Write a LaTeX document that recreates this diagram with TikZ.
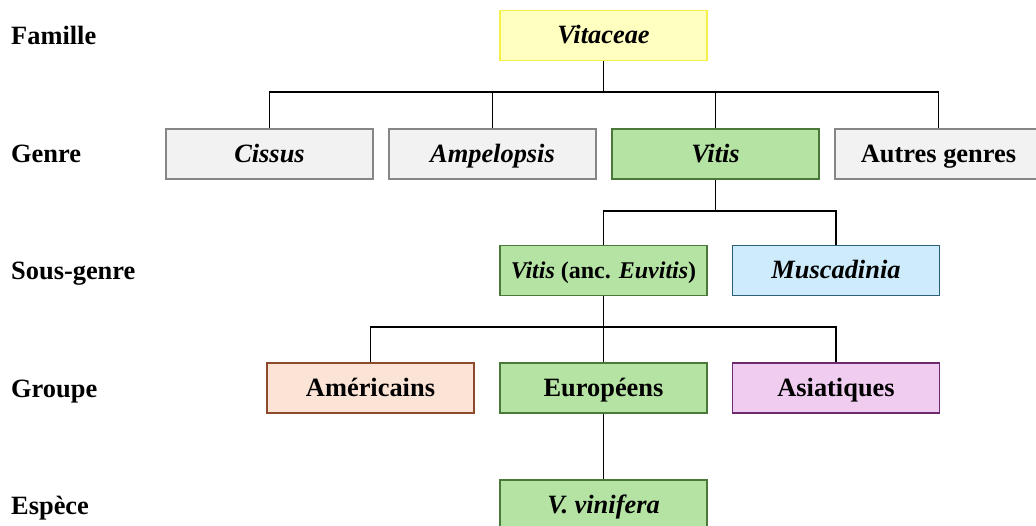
\documentclass[tikz,border=0pt]{standalone}
\usepackage{fontspec}
\setmainfont{Liberation Serif}
\definecolor{yfill}{HTML}{FFFFC0}
\definecolor{ydraw}{HTML}{F5F04A}
\definecolor{gfill}{HTML}{F2F2F2}
\definecolor{gdraw}{HTML}{868686}
\definecolor{vfill}{HTML}{B5E3A3}
\definecolor{vdraw}{HTML}{4A7A3A}
\definecolor{bfill}{HTML}{CDEBFA}
\definecolor{bdraw}{HTML}{2E5F7A}
\definecolor{pfill}{HTML}{FBE3D6}
\definecolor{pdraw}{HTML}{8B4A2B}
\definecolor{mfill}{HTML}{F0CDF0}
\definecolor{mdraw}{HTML}{6E2A6E}
\tikzset{
  box/.style={rectangle, minimum width=207pt, minimum height=50pt, inner sep=0pt,
    line width=1.4pt, text height=17pt, text depth=0pt,
    font=\fontsize{26.4}{31}\selectfont\bfseries},
  yellowbox/.style={box, fill=yfill, draw=ydraw},
  graybox/.style={box, fill=gfill, draw=gdraw},
  greenbox/.style={box, fill=vfill, draw=vdraw},
  bluebox/.style={box, fill=bfill, draw=bdraw},
  peachbox/.style={box, fill=pfill, draw=pdraw},
  mauvebox/.style={box, fill=mfill, draw=mdraw},
  rank/.style={anchor=base west, inner sep=0pt, font=\fontsize{26.4}{31}\selectfont\bfseries},
  link/.style={line width=1.9pt, black}
}
\begin{document}
\begin{tikzpicture}[x=1pt, y=-1pt]
\useasboundingbox (0,0) rectangle (1036,526);
% rank labels
\node[rank] (lf) at (11,45) {Famille};
\node[rank] (lg) at (11,163) {Genre};
\node[rank] (ls) at (11,280) {Sous-genre};
\node[rank] (lr) at (11,397) {Groupe};
\node[rank] (le) at (11,514) {Espèce};
% boxes
\node[yellowbox] (vit) at (603.5,35.5) {\itshape Vitaceae};
\node[graybox] (cis) at (269.5,154) {\itshape Cissus};
\node[graybox] (amp) at (492.5,154) {\itshape Ampelopsis};
\node[greenbox] (vitis) at (715.5,154) {\itshape Vitis};
\node[graybox] (aut) at (938.5,154) {Autres genres};
\node[greenbox] (euv) at (603.5,270.5) {\fontsize{24}{28}\selectfont\textit{Vitis} (anc. \textit{Euvitis})};
\node[bluebox] (mus) at (836,270.5) {\itshape Muscadinia};
\node[peachbox] (ame) at (370.5,388) {Américains};
\node[greenbox] (eur) at (603.5,388) {Européens};
\node[mauvebox] (asi) at (836,388) {Asiatiques};
\node[greenbox] (vin) at (603.5,505) {\itshape V. vinifera};
% connectors
\coordinate (j1) at (603.5,92);
\draw[link] (vit.south) -- (j1);
\draw[link] (cis.north) |- (j1);
\draw[link] (amp.north) |- (j1);
\draw[link] (vitis.north) |- (j1);
\draw[link] (aut.north) |- (j1);
\coordinate (j2) at (715.5,211);
\draw[link] (vitis.south) -- (j2);
\draw[link] (euv.north) |- (j2);
\draw[link] (mus.north) |- (j2);
\coordinate (j3) at (603.5,327);
\draw[link] (euv.south) -- (j3);
\draw[link] (ame.north) |- (j3);
\draw[link] (eur.north) -- (j3);
\draw[link] (asi.north) |- (j3);
\draw[link] (eur.south) -- (vin.north);
\end{tikzpicture}
\end{document}
